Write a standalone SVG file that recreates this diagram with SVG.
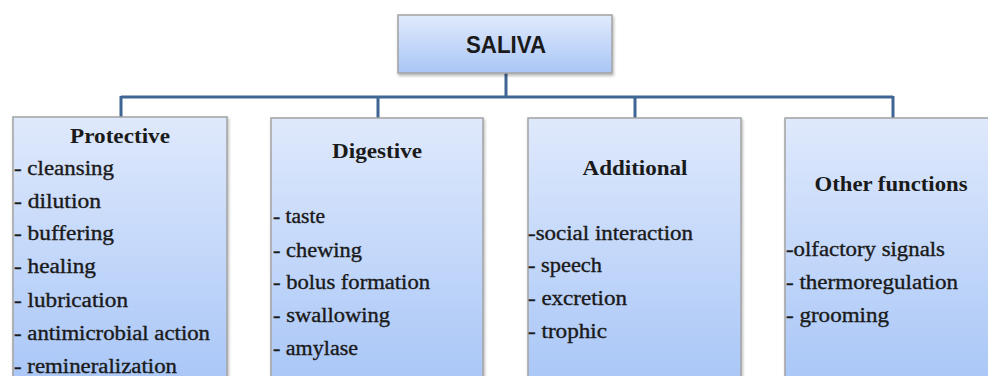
<svg xmlns="http://www.w3.org/2000/svg" width="988" height="376" viewBox="0 0 988 376">
<defs>
<linearGradient id="gTop" x1="0" y1="0" x2="0" y2="1">
<stop offset="0" stop-color="#e0eafc"/>
<stop offset="1" stop-color="#a9c6f6"/>
</linearGradient>
<linearGradient id="gBox" x1="0" y1="0" x2="0" y2="1">
<stop offset="0" stop-color="#dfe9fc"/>
<stop offset="1" stop-color="#a8c6f7"/>
</linearGradient>
<filter id="sh" x="-10%" y="-10%" width="120%" height="130%">
<feDropShadow dx="1" dy="2" stdDeviation="1.5" flood-color="#000" flood-opacity="0.3"/>
</filter>
</defs>
<style>
.box{fill:url(#gBox);stroke:#a3a3a3;stroke-width:1.5;filter:url(#sh)}
.top{fill:url(#gTop);stroke:#a3a3a3;stroke-width:1.5;filter:url(#sh)}
.conn{fill:none;stroke:#3f6594;stroke-width:3}
.item{font-family:'Liberation Serif',serif;font-size:20px;font-weight:400;fill:#1a1a1a;stroke:#1a1a1a;stroke-width:0.35}
.head{font-family:'Liberation Serif',serif;font-size:20px;font-weight:700;fill:#1a1a1a;text-anchor:middle}
.root{font-family:'Liberation Sans',sans-serif;font-size:23px;font-weight:700;fill:#1a1a1a;text-anchor:middle}
</style>
<rect width="988" height="376" fill="#ffffff"/>
<g id="connectors">
<path class="conn" d="M506 73 V97 M121 97 H893 M121 96 V118 M378 96 V118 M635 96 V118 M893 96 V118"/>
</g>
<g id="saliva">
<rect class="top" x="398" y="15" width="214" height="58"/>
<text class="root" x="506" y="53" textLength="80" lengthAdjust="spacingAndGlyphs">SALIVA</text>
</g>
<g id="protective">
<rect class="box" x="13" y="117" width="214" height="270"/>
<text class="head" x="120" y="143" textLength="100" lengthAdjust="spacingAndGlyphs">Protective</text>
<text class="item" x="14" y="175" textLength="100" lengthAdjust="spacingAndGlyphs">- cleansing</text>
<text class="item" x="14" y="208" textLength="87" lengthAdjust="spacingAndGlyphs">- dilution</text>
<text class="item" x="14" y="240" textLength="100" lengthAdjust="spacingAndGlyphs">- buffering</text>
<text class="item" x="14" y="273" textLength="82" lengthAdjust="spacingAndGlyphs">- healing</text>
<text class="item" x="14" y="307" textLength="114" lengthAdjust="spacingAndGlyphs">- lubrication</text>
<text class="item" x="14" y="340" textLength="196" lengthAdjust="spacingAndGlyphs">- antimicrobial action</text>
<text class="item" x="14" y="373" textLength="163" lengthAdjust="spacingAndGlyphs">- remineralization</text>
</g>
<g id="digestive">
<rect class="box" x="271" y="118" width="212" height="270"/>
<text class="head" x="377" y="158" textLength="90" lengthAdjust="spacingAndGlyphs">Digestive</text>
<text class="item" x="273" y="223" textLength="52" lengthAdjust="spacingAndGlyphs">- taste</text>
<text class="item" x="273" y="257" textLength="89" lengthAdjust="spacingAndGlyphs">- chewing</text>
<text class="item" x="273" y="289" textLength="157" lengthAdjust="spacingAndGlyphs">- bolus formation</text>
<text class="item" x="273" y="322" textLength="117" lengthAdjust="spacingAndGlyphs">- swallowing</text>
<text class="item" x="273" y="355" textLength="85" lengthAdjust="spacingAndGlyphs">- amylase</text>
</g>
<g id="additional">
<rect class="box" x="528" y="118" width="213" height="270"/>
<text class="head" x="635" y="175" textLength="105" lengthAdjust="spacingAndGlyphs">Additional</text>
<text class="item" x="528" y="240" textLength="165" lengthAdjust="spacingAndGlyphs">-social interaction</text>
<text class="item" x="528" y="272" textLength="74" lengthAdjust="spacingAndGlyphs">- speech</text>
<text class="item" x="528" y="305" textLength="99" lengthAdjust="spacingAndGlyphs">- excretion</text>
<text class="item" x="528" y="338" textLength="79" lengthAdjust="spacingAndGlyphs">- trophic</text>
</g>
<g id="other">
<rect class="box" x="785" y="118" width="215" height="270"/>
<text class="head" x="891" y="191" textLength="153" lengthAdjust="spacingAndGlyphs">Other functions</text>
<text class="item" x="786" y="256" textLength="159" lengthAdjust="spacingAndGlyphs">-olfactory signals</text>
<text class="item" x="786" y="289" textLength="172" lengthAdjust="spacingAndGlyphs">- thermoregulation</text>
<text class="item" x="786" y="322" textLength="103" lengthAdjust="spacingAndGlyphs">- grooming</text>
</g>
</svg>
